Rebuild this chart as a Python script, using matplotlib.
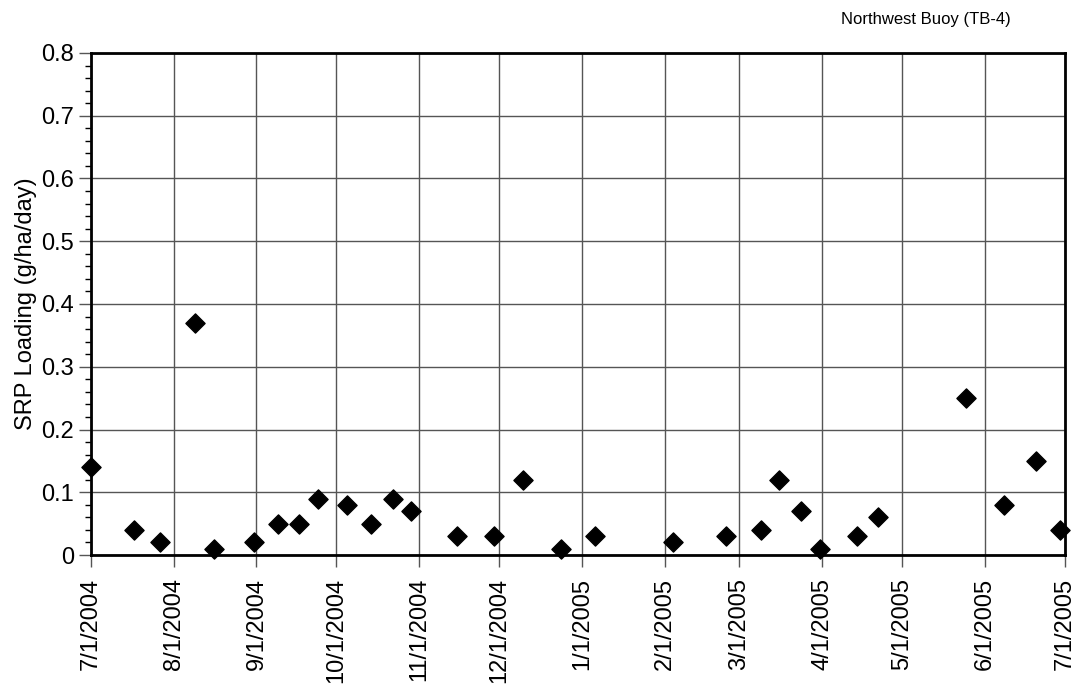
import matplotlib
matplotlib.use("Agg")
import matplotlib.pyplot as plt
import matplotlib.dates as mdates
from matplotlib.ticker import MultipleLocator
import pandas as pd

# SRP loading samples, Northwest Buoy (TB-4)
sample_dates = [
    "2004-07-01", "2004-07-17", "2004-07-27", "2004-08-09", "2004-08-16",
    "2004-08-31", "2004-09-09", "2004-09-17", "2004-09-24", "2004-10-05",
    "2004-10-14", "2004-10-22", "2004-10-29", "2004-11-15", "2004-11-29",
    "2004-12-10", "2004-12-24", "2005-01-06", "2005-02-04", "2005-02-24",
    "2005-03-09", "2005-03-16", "2005-03-24", "2005-03-31", "2005-04-14",
    "2005-04-22", "2005-05-25", "2005-06-08", "2005-06-20", "2005-06-29",
]
srp_loading = [
    0.14, 0.04, 0.02, 0.37, 0.01,
    0.02, 0.05, 0.05, 0.09, 0.08,
    0.05, 0.09, 0.07, 0.03, 0.03,
    0.12, 0.01, 0.03, 0.02, 0.03,
    0.04, 0.12, 0.07, 0.01, 0.03,
    0.06, 0.25, 0.08, 0.15, 0.04,
]
x_start, x_end = "2004-07-01", "2005-07-01"

plt.rcParams["font.family"] = ["Liberation Sans", "DejaVu Sans"]

fig = plt.figure(figsize=(10.84, 6.88), dpi=100)
ax = fig.add_axes([0.0839, 0.1933, 0.8986, 0.7297])

ax.scatter(pd.to_datetime(sample_dates), srp_loading, marker="D", s=95,
           color="black", zorder=3, clip_on=False)

ax.set_xlim(pd.Timestamp(x_start), pd.Timestamp(x_end))
ax.set_ylim(0, 0.8)

ax.xaxis.set_major_locator(mdates.MonthLocator())
ax.xaxis.set_major_formatter(
    plt.FuncFormatter(lambda v, p: "{d.month}/{d.day}/{d.year}".format(
        d=mdates.num2date(v))))
ax.yaxis.set_major_locator(MultipleLocator(0.1))
ax.yaxis.set_minor_locator(MultipleLocator(0.02))
ax.yaxis.set_major_formatter(
    plt.FuncFormatter(lambda v, p: "0" if abs(v) < 1e-9 else f"{v:.1f}"))

ax.grid(True, which="major", color="#555555", linewidth=1.0)
ax.set_axisbelow(True)

ax.tick_params(axis="x", which="major", direction="out", length=8.5,
               width=1, color="#555555", labelsize=17, rotation=90, pad=8)
ax.tick_params(axis="y", which="major", direction="out", length=9,
               width=1, color="#555555", labelsize=17, pad=3)
ax.tick_params(axis="y", which="minor", direction="out", length=4,
               width=1, color="black")

for side in ("top", "bottom", "right", "left"):
    ax.spines[side].set_linewidth(2)

ax.set_ylabel("SRP Loading (g/ha/day)", fontsize=17, labelpad=3)

fig.text(0.854, 0.972, "Northwest Buoy (TB-4)", fontsize=12,
         ha="center", va="center")

fig.savefig("out.png", dpi=100)
